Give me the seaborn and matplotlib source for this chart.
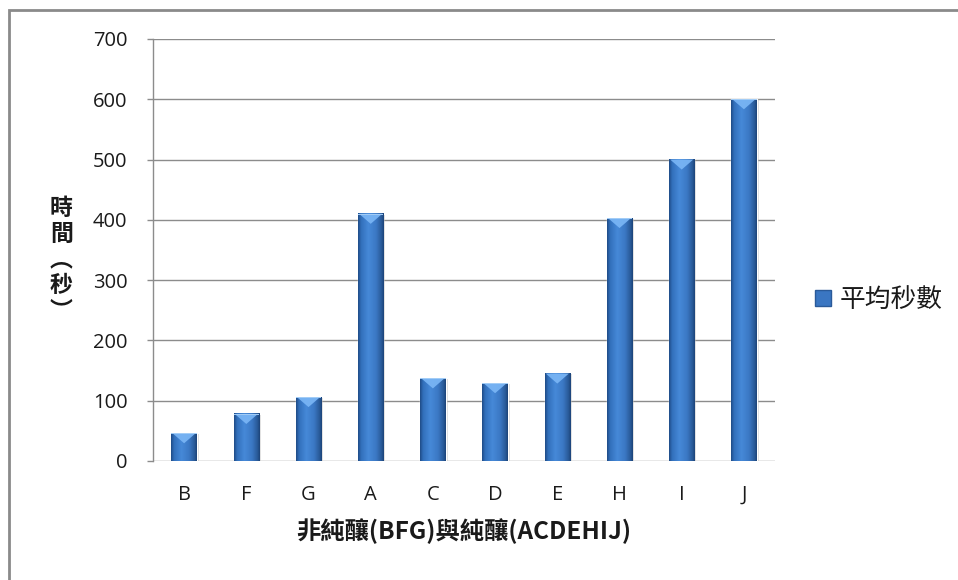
import numpy as np
import pandas as pd
import matplotlib
matplotlib.use("Agg")
import matplotlib.pyplot as plt
from matplotlib.patches import Polygon, Rectangle, Patch
from matplotlib.colors import to_rgb
import seaborn as sns

# Average seconds per sample: non-pure (B, F, G) followed by pure (A, C, D, E, H, I, J)
categories = ["B", "F", "G", "A", "C", "D", "E", "H", "I", "J"]
avg_seconds = [46, 78, 106, 410, 137, 129, 145, 403, 500, 600]
y_ticks = [0, 100, 200, 300, 400, 500, 600, 700]

series_name = "平均秒數"
x_title = "非純釀(BFG)與純釀(ACDEHIJ)"
y_title = "時\n間\n︵\n秒\n︶"

df = pd.DataFrame({"cat": categories, "val": avg_seconds})

sns.set_theme(style="white")
plt.rcParams["font.family"] = ["Open Sans", "Noto Sans CJK TC", "DejaVu Sans"]
cjk = ["Noto Sans CJK TC", "DejaVu Sans"]

fig = plt.figure(figsize=(9.58, 5.8), dpi=100)
ax_box = [153 / 958, 1 - 461 / 580, 622 / 958, 422 / 580]
ax = fig.add_axes(ax_box)

base = "#3a76c2"
sns.barplot(data=df, x="cat", y="val", color=base, width=0.41,
            saturation=1, ax=ax, zorder=3)

# horizontal shading across each column: dark rims, lighter centre
stops = np.array([0.0, 0.12, 0.4, 0.7, 0.9, 1.0])
cols = np.array([to_rgb(c) for c in
                 ["#1f4b86", "#3270bb", "#4689d8", "#3b78c4", "#2a5b9a", "#1c4479"]])
t = np.linspace(0, 1, 128)
grad = np.stack([np.interp(t, stops, cols[:, k]) for k in range(3)], axis=-1)[None, :, :]

px_per_unit = 422 / 700.0
cap = 10 / px_per_unit
for p in ax.patches:
    x0, w, h = p.get_x(), p.get_width(), p.get_height()
    # soft shadow
    ax.add_patch(Rectangle((x0 + 0.03, 0), w, h - 1.5, facecolor="#9a9a9a",
                           alpha=0.35, edgecolor="none", zorder=2.5))
    ax.imshow(grad, extent=[x0, x0 + w, 0, h], aspect="auto",
              interpolation="bilinear", zorder=3.2)
    # lighter chevron on the top face
    ax.add_patch(Polygon([(x0 + 0.02, h), (x0 + w - 0.02, h), (x0 + w / 2, h - cap)],
                         closed=True, facecolor="#78b4f4", edgecolor="none",
                         alpha=0.95, zorder=3.4))
    ax.add_patch(Rectangle((x0, h - 1.3), w, 1.3, facecolor="#a2ccf6",
                           edgecolor="none", zorder=3.5))

ax.set_xlim(-0.5, len(categories) - 0.5)
ax.set_ylim(0, 700)
ax.set_yticks(y_ticks)
ax.set_yticklabels([str(v) for v in y_ticks])

ax.grid(axis="y", color="#8c8c8c", linewidth=1.0, zorder=0)
ax.set_axisbelow(True)
for s in ["top", "right", "bottom"]:
    ax.spines[s].set_visible(False)
ax.spines["left"].set_color("#8c8c8c")
ax.spines["left"].set_linewidth(1.0)

ax.tick_params(axis="y", length=4.5, width=1, color="#8c8c8c", pad=14,
               labelsize=14.5, labelcolor="#1a1a1a", left=True)
ax.tick_params(axis="x", length=0, pad=17, labelsize=14.5, labelcolor="#1a1a1a")

ax.set_xlabel(x_title, fontsize=17.5, fontweight="bold", family=cjk,
              color="#1a1a1a", labelpad=10)
ax.set_ylabel("")
fig.text(0.064, 0.552, y_title, ha="center", va="center", fontsize=16.5,
         fontweight="bold", family=cjk, color="#1a1a1a", linespacing=1.15)

handle = Patch(facecolor="#3a76c2", edgecolor="#2a5a99")
leg = fig.legend([handle], [series_name], loc="center left",
                 bbox_to_anchor=(0.827, 0.483), frameon=False,
                 handlelength=0.6, handleheight=0.6, handletextpad=0.35,
                 prop={"family": cjk, "size": 18.5})
for txt in leg.get_texts():
    txt.set_color("#1a1a1a")

# outer chart frame
fig.add_artist(Rectangle((9 / 958, -0.05), 1.05, 1.05 - 10 / 580,
                         transform=fig.transFigure, fill=False,
                         edgecolor="#8a8a8a", linewidth=2.0))

fig.savefig("out.png", dpi=100)
